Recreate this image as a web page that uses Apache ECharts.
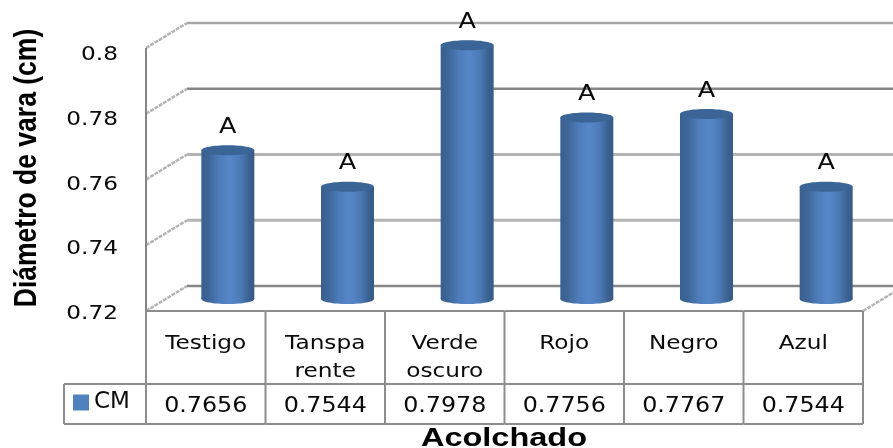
<!DOCTYPE html>
<html>
<head>
<meta charset="utf-8">
<style>html,body{margin:0;padding:0;background:#fff}#chart{width:893px;height:448px}</style>
<script src="https://cdn.jsdelivr.net/npm/echarts@6/dist/echarts.min.js"></script>
</head>
<body>
<div id="chart"></div>
<script>
// Stem diameter by mulch colour
const categories = ['Testigo', 'Tanspa\nrente', 'Verde\noscuro', 'Rojo', 'Negro', 'Azul'];
const diameters = [0.7656, 0.7544, 0.7978, 0.7756, 0.7767, 0.7544];
const significance = ['A', 'A', 'A', 'A', 'A', 'A'];
const yTicks = [0.72, 0.74, 0.76, 0.78, 0.8];
const seriesName = 'CM';
const yTitle = 'Diámetro de vara (cm)';
const xTitle = 'Acolchado';

// Styling and pseudo-3D layout
const depthX = 41, depthY = 25;
const gridStyles = [
  ['#868686', 2.5], ['#b4b4b4', 3], ['#b4b4b4', 3], ['#868686', 2.5], ['#a6a6a6', 2.5]
];
const diagonalStyle = { stroke: '#b4b4b4', lineWidth: 2.5, lineDash: [4, 1] };
const tableColor = '#8c8c8c';
const sans = '"DejaVu Sans", Verdana, sans-serif';
const stretch = 1.16;

function label(text, x, y, size, align, extra) {
  return {
    type: 'text', x, y, scaleX: stretch, silent: true,
    style: Object.assign({
      text, fontSize: size, fontFamily: sans, fill: '#0a0a0a',
      align: align || 'center', verticalAlign: 'middle'
    }, extra || {})
  };
}

// Walls: one gridline per tick, running along the side wall and across the back
function renderGridline(params, api) {
  const i = api.value(0);
  const left = api.coord([0, yTicks[i]]);
  const x0 = left[0] - api.size([1, 0])[0] / 2;
  const y = left[1];
  const [color, width] = gridStyles[i];
  const children = [{
    type: 'polyline',
    shape: { points: [[x0 + depthX, y - depthY], [935, y - depthY]] },
    style: { stroke: color, lineWidth: width, fill: null }
  }, {
    type: 'line',
    shape: { x1: x0, y1: y, x2: x0 + depthX, y2: y - depthY },
    style: diagonalStyle
  }];
  if (i === 0) {
    // Right edge of the floor
    const xr = x0 + api.size([1, 0])[0] * categories.length;
    children.push({
      type: 'line',
      shape: { x1: xr, y1: y, x2: xr + depthX, y2: y - depthY },
      style: diagonalStyle
    });
  }
  if (i === yTicks.length - 1) {
    // Vertical wall edge at the axis
    const bottom = api.coord([0, yTicks[0]])[1];
    children.push({
      type: 'line',
      shape: { x1: x0, y1: y, x2: x0, y2: bottom },
      style: { stroke: '#868686', lineWidth: 2 }
    });
  }
  return { type: 'group', children };
}

// Shaded cylinder with the significance letter above it
function renderCylinder(params, api) {
  const i = api.value(0);
  const top = api.coord([i, api.value(1)]);
  const base = api.coord([i, yTicks[0]]);
  const rx = 26.5, ry = 5;
  const shade = new echarts.graphic.LinearGradient(0, 0, 1, 0, [
    { offset: 0, color: '#3a5f8e' },
    { offset: 0.14, color: '#3e6699' },
    { offset: 0.34, color: '#4d7cb9' },
    { offset: 0.55, color: '#5687c8' },
    { offset: 0.76, color: '#4a78b2' },
    { offset: 0.9, color: '#3a618f' },
    { offset: 1, color: '#375a86' }
  ]);
  return {
    type: 'group',
    children: [
      { type: 'ellipse', shape: { cx: top[0], cy: base[1], rx, ry }, style: { fill: shade } },
      { type: 'rect', shape: { x: top[0] - rx, y: top[1], width: rx * 2, height: base[1] - top[1] }, style: { fill: shade } },
      { type: 'ellipse', shape: { cx: top[0], cy: top[1], rx, ry }, style: { fill: '#3b6596' } },
      label(significance[i], top[0], top[1] - 23, 22)
    ]
  };
}

// Data table under the plot: category row and value row
function renderTableColumn(params, api) {
  const i = api.value(0);
  const c = api.coord([i, yTicks[0]]);
  const half = api.size([1, 0])[0] / 2;
  const yTop = c[1], yMid = yTop + 73, yEnd = yTop + 113;
  const line = (x1, y1, x2, y2) => ({
    type: 'line', shape: { x1, y1, x2, y2 },
    style: { stroke: tableColor, lineWidth: 2 }
  });
  const children = [
    line(c[0] - half, yTop, c[0] + half, yTop),
    line(c[0] - half, yMid, c[0] + half, yMid),
    line(c[0] - half, yEnd, c[0] + half, yEnd),
    line(c[0] + half, yTop, c[0] + half, yEnd),
    label(categories[i], c[0], yTop + 19, 20, 'center', { verticalAlign: 'top', lineHeight: 28 }),
    label(api.value(1).toFixed(4), c[0], yMid + 23, 20.5)
  ];
  if (i === 0) {
    const xl = c[0] - half;
    children.push(
      line(xl, yTop, xl, yEnd),
      line(xl - 82, yMid, xl, yMid),
      line(xl - 82, yEnd, xl, yEnd),
      line(xl - 82, yMid, xl - 82, yEnd)
    );
  }
  return { type: 'group', children };
}

function renderTick(params, api) {
  const v = api.value(0);
  const p = api.coord([0, v]);
  return label(String(v), 118, p[1], 20, 'right');
}

const hiddenY = (gridIndex) => ({ type: 'value', gridIndex, min: 0.72, max: 0.8, interval: 0.02, show: false });
const hiddenX = (gridIndex) => ({ type: 'category', gridIndex, data: categories, show: false });
const idx = categories.map((_, i) => i);

const option = {
  animation: false,
  backgroundColor: '#fff',
  grid: [
    { left: 146, width: 717, top: 48, height: 263 },   // front plane of the walls
    { left: 168, width: 718, top: 38, height: 261 },   // plane through the bar centres
    { left: 146, width: 717, top: 55, height: 259 }    // tick label positions
  ],
  xAxis: [hiddenX(0), hiddenX(1), hiddenX(2)],
  yAxis: [hiddenY(0), hiddenY(1), hiddenY(2)],
  legend: {
    data: [{ name: seriesName, icon: 'rect', itemStyle: { color: '#4f81bd' } }],
    left: 73, top: 391, padding: 0, itemWidth: 16, itemHeight: 16, itemGap: 8,
    selectedMode: false,
    textStyle: { fontFamily: sans, fontSize: 23, color: '#0a0a0a' }
  },
  series: [
    {
      type: 'custom', name: 'grid', xAxisIndex: 0, yAxisIndex: 0, z: 1, silent: true,
      data: yTicks.map((_, i) => [i]), renderItem: renderGridline
    },
    {
      type: 'custom', name: 'table', xAxisIndex: 0, yAxisIndex: 0, z: 2, silent: true,
      data: idx.map(i => [i, diameters[i]]), renderItem: renderTableColumn
    },
    {
      type: 'custom', name: 'ticks', xAxisIndex: 2, yAxisIndex: 2, z: 2, silent: true,
      data: yTicks.map(v => [v]), renderItem: renderTick
    },
    {
      type: 'custom', name: seriesName, xAxisIndex: 1, yAxisIndex: 1, z: 3,
      itemStyle: { color: '#4f81bd' },
      data: idx.map(i => [i, diameters[i]]), renderItem: renderCylinder
    }
  ],
  graphic: [
    {
      type: 'text', x: 27, y: 168, rotation: Math.PI / 2, scaleX: 0.855, silent: true,
      style: { text: yTitle, fontFamily: '"Liberation Sans", Arial, sans-serif', fontWeight: 'bold', fontSize: 31, fill: '#000', align: 'center', verticalAlign: 'middle' }
    },
    {
      type: 'text', x: 504, y: 439, scaleX: 1.3, silent: true,
      style: { text: xTitle, fontFamily: '"Liberation Sans", Arial, sans-serif', fontWeight: 'bold', fontSize: 25, fill: '#000', align: 'center', verticalAlign: 'middle' }
    }
  ]
};

echarts.init(document.getElementById('chart'), null, { renderer: 'canvas' }).setOption(option);
</script>
</body>
</html>
